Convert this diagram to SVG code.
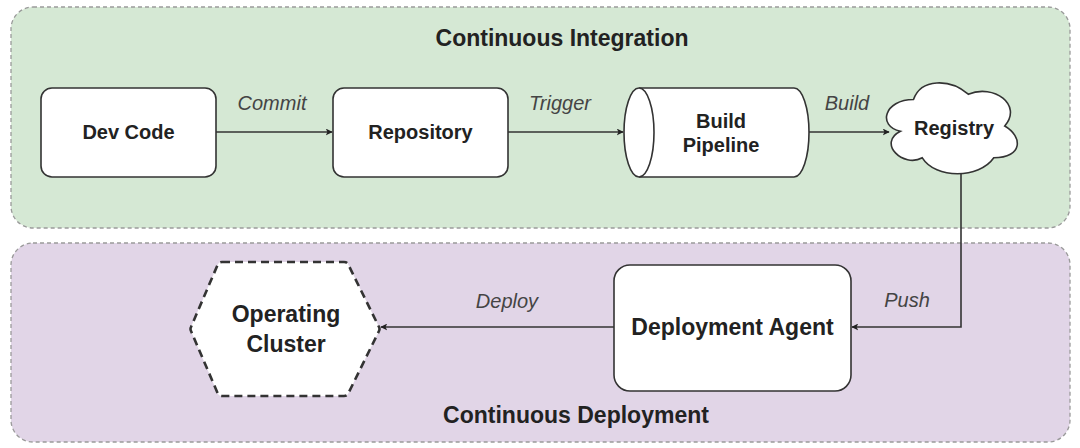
<svg xmlns="http://www.w3.org/2000/svg" width="1080" height="448" viewBox="0 0 1080 448">
<style>
.cont{stroke:#9a9a9a;stroke-width:1.3;stroke-dasharray:4 3}
.node{fill:#fff;stroke:#333;stroke-width:1.6}
.lbl{font-family:"Liberation Sans",Arial,sans-serif;font-weight:bold;fill:#222;text-anchor:middle}
.edge{font-family:"Liberation Sans",Arial,sans-serif;font-style:italic;fill:#444;font-size:20px;text-anchor:middle}
.conn{fill:none;stroke:#333;stroke-width:1.6}
</style>
<defs>
<marker id="arr" viewBox="0 0 10 10" refX="9" refY="5" markerWidth="7" markerHeight="7" markerUnits="userSpaceOnUse" orient="auto"><path d="M0,0 L10,5 L0,10 L2.5,5 Z" fill="#222"/></marker>
</defs>
<rect width="1080" height="448" fill="#fff"/>
<g id="ci">
<rect class="cont" x="11" y="7" width="1059" height="221" rx="22" fill="#d5e8d4"/>
<text class="lbl" x="562" y="46" font-size="23">Continuous Integration</text>
</g>
<g id="cd">
<rect class="cont" x="11" y="243" width="1059" height="199" rx="22" fill="#e1d5e7"/>
<text class="lbl" x="576" y="423" font-size="23">Continuous Deployment</text>
</g>
<g id="connectors">
<line class="conn" x1="216" y1="132" x2="332" y2="132" marker-end="url(#arr)"/>
<text class="edge" x="272" y="110">Commit</text>
<line class="conn" x1="508" y1="132" x2="623" y2="132" marker-end="url(#arr)"/>
<text class="edge" x="560" y="110">Trigger</text>
<line class="conn" x1="809" y1="132" x2="889" y2="132" marker-end="url(#arr)"/>
<text class="edge" x="847" y="110">Build</text>
<path class="conn" d="M961,172 V327 H852" marker-end="url(#arr)"/>
<text class="edge" x="907" y="307">Push</text>
<line class="conn" x1="614" y1="327" x2="381" y2="327" marker-end="url(#arr)"/>
<text class="edge" x="507" y="308">Deploy</text>
</g>
<g id="devcode">
<rect class="node" x="41" y="88" width="175" height="89" rx="11"/>
<text class="lbl" x="128.5" y="139" font-size="20">Dev Code</text>
</g>
<g id="repository">
<rect class="node" x="333" y="88" width="175" height="89" rx="11"/>
<text class="lbl" x="420.5" y="139" font-size="20">Repository</text>
</g>
<g id="buildpipeline">
<path class="node" d="M639,88 H794 A15,44.5 0 0 1 794,177 H639 A15,44.5 0 0 1 639,88 Z"/>
<path class="node" d="M639,88 A15,44.5 0 0 1 639,177"/>
<text class="lbl" x="721" y="128" font-size="20">Build</text>
<text class="lbl" x="721" y="152" font-size="20">Pipeline</text>
</g>
<g id="registry">
<path class="node" d="M913.5,99.5 C884.3,99.5 877,126 900.4,131.3 C877,143 903.3,168.4 922.3,157.8 C935.4,179 979.2,179 993.8,157.8 C1023,157.8 1023,136.6 1004.75,126 C1023,104.8 993.8,83.6 968.25,94.2 C950,78.3 920.8,78.3 913.5,99.5 Z"/>
<text class="lbl" x="954" y="135" font-size="20">Registry</text>
</g>
<g id="deploymentagent">
<rect class="node" x="614" y="265" width="237" height="126" rx="16"/>
<text class="lbl" x="732.5" y="335" font-size="23">Deployment Agent</text>
</g>
<g id="operatingcluster">
<path d="M222,262 H344 Q347,262 348,264 L379,327 Q380,329 379,331 L348,394 Q347,396 344,396 H222 Q219,396 218,394 L191,331 Q190,329 191,327 L218,264 Q219,262 222,262 Z" fill="#fff" stroke="#333" stroke-width="2.6" stroke-dasharray="8 5" stroke-linejoin="round"/>
<text class="lbl" x="286" y="322" font-size="23">Operating</text>
<text class="lbl" x="286" y="352" font-size="23">Cluster</text>
</g>
</svg>
